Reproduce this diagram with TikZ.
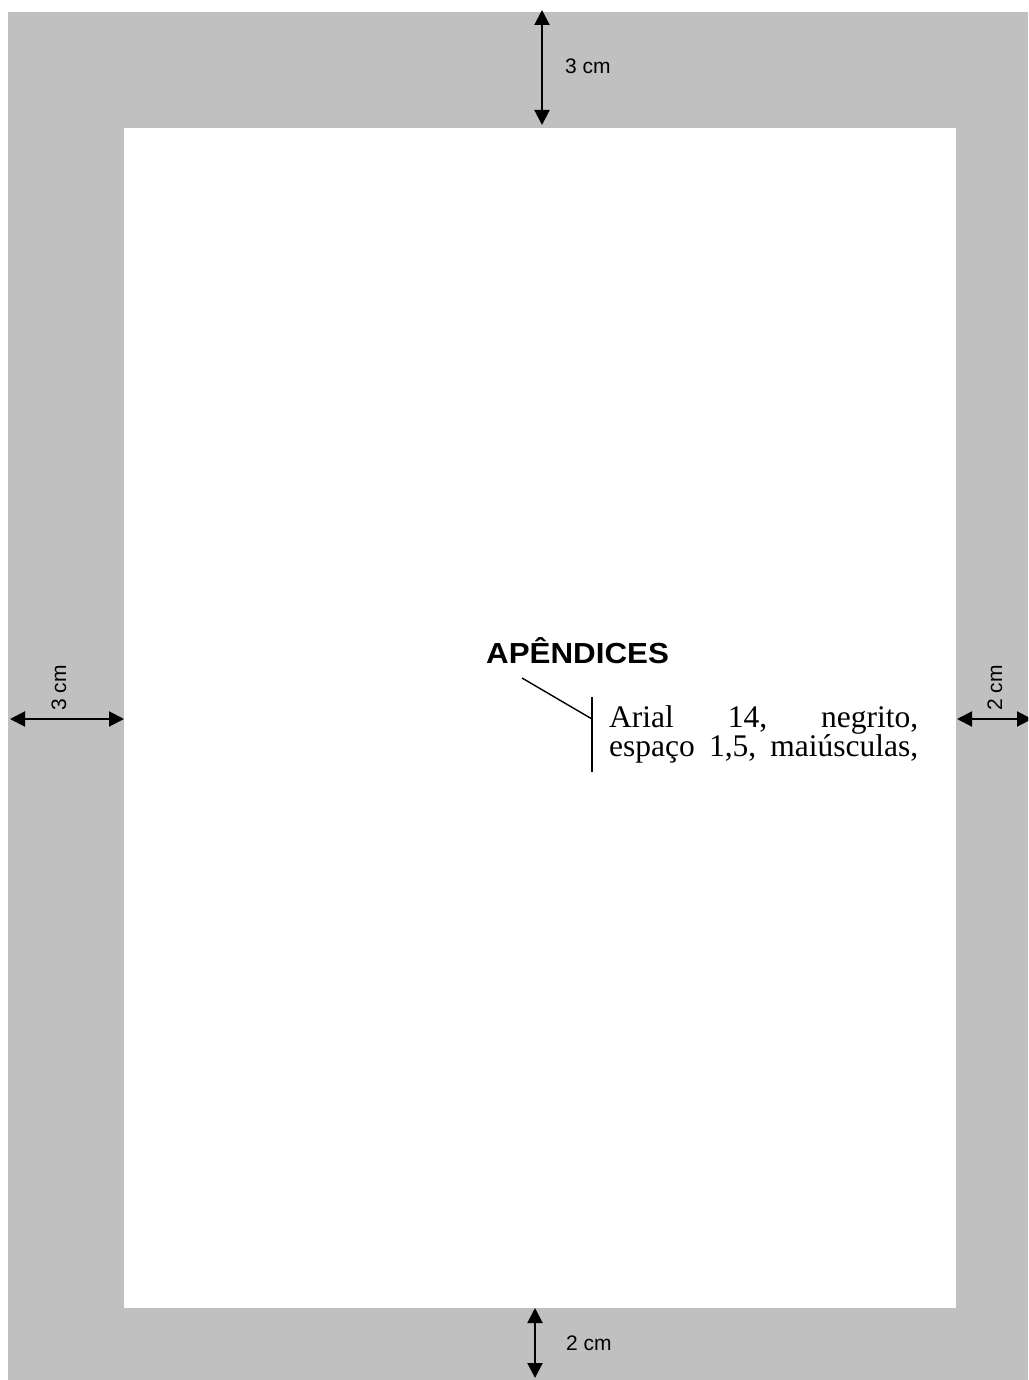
\documentclass[tikz,border=0pt]{standalone}
\usepackage{fontspec}
\setmainfont{Liberation Serif}
\newfontfamily\arialfont{Liberation Sans}
\usetikzlibrary{arrows.meta}
\definecolor{margingray}{RGB}{192,192,192}
\begin{document}
\begin{tikzpicture}[x=1pt,y=-1pt,
  dimarrow/.style={line width=2pt,{Triangle[length=15pt,width=15pt]}-{Triangle[length=15pt,width=15pt]}},
  dimlabel/.style={font=\arialfont\fontsize{21}{25}\selectfont,inner sep=0pt},
  leader/.style={line width=1.4pt},
  notebox/.style={font=\fontsize{31.5}{27}\selectfont,inner sep=0pt,anchor=base west,text width=307pt,align=left}]
\useasboundingbox (0,0) rectangle (1028,1380);
\clip (0,0) rectangle (1028,1380);
% sheet and margins
\fill[margingray] (8,12) rectangle (1028,1380);
\fill[white] (124,128) rectangle (956,1308);
% dimension end points
\coordinate (topA) at (542,10);
\coordinate (topB) at (542,125);
\coordinate (botA) at (535,1308);
\coordinate (botB) at (535,1378);
\coordinate (lefA) at (10,719);
\coordinate (lefB) at (124,719);
\coordinate (rigA) at (957,719);
\coordinate (rigB) at (1032,719);
\draw[dimarrow] (topA) -- (topB);
\draw[dimarrow] (botA) -- (botB);
\draw[dimarrow] (lefA) -- (lefB);
\draw[dimarrow] (rigA) -- (rigB);
\node[dimlabel,anchor=west] (toplbl) at (565,66) {3 cm};
\node[dimlabel,anchor=west] (botlbl) at (566,1343) {2 cm};
\node[dimlabel,rotate=90] (leflbl) at (59,688) {3 cm};
\node[dimlabel,rotate=90] (riglbl) at (995,688) {2 cm};
% title and note
\node[font=\arialfont\bfseries\fontsize{29}{33}\selectfont,inner sep=0pt,anchor=base west,xscale=1.08] (title) at (486,663) {APÊNDICES};
\coordinate (ldA) at (522,678);
\coordinate (ldB) at (592,719);
\coordinate (vtA) at (592,697);
\coordinate (vtB) at (592,772);
\draw[leader] (ldA) -- (ldB);
\draw[leader] (vtA) -- (vtB);
\node[notebox] (note) at (609,727) {\makebox[309pt][s]{Arial\hfill 14,\hfill negrito,}\\\makebox[309pt][s]{espaço\hfill 1,5,\hfill maiúsculas,}};
\end{tikzpicture}
\end{document}
